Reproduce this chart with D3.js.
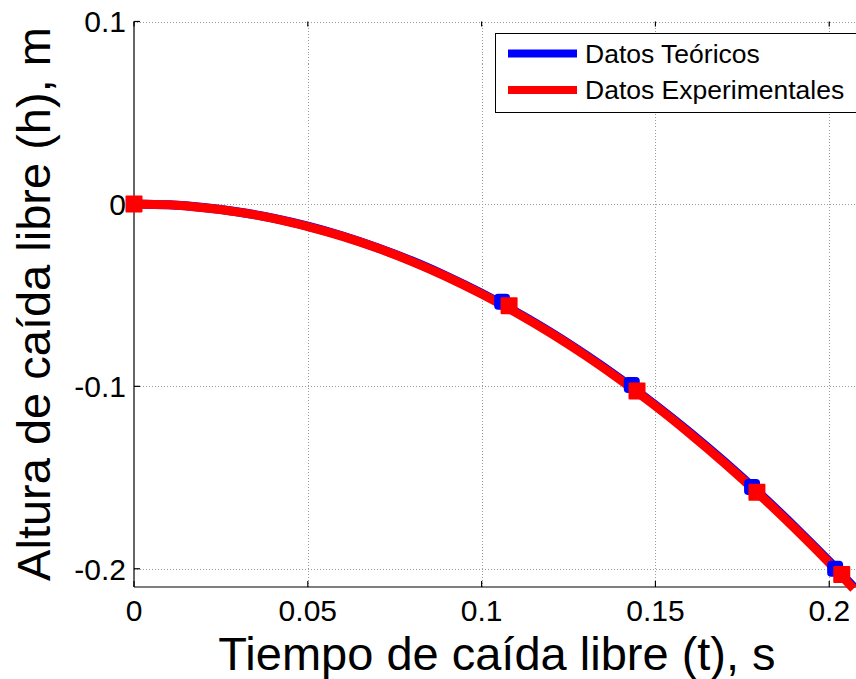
<!DOCTYPE html>
<html>
<head>
<meta charset="utf-8">
<script src="https://cdn.jsdelivr.net/npm/d3@7"></script>
<style>
  body { margin: 0; background: #fff; }
  svg { display: block; font-family: "Liberation Sans", Arial, sans-serif; }
</style>
</head>
<body>
<script>
// curve (t in s, h in m)
var tCurve = [0, 0.01, 0.02, 0.03, 0.04, 0.05, 0.06, 0.07, 0.08, 0.09, 0.10, 0.11, 0.12, 0.13, 0.14, 0.15, 0.16, 0.17, 0.18, 0.19, 0.20, 0.207];
var hTeo = [0, -0.0005, -0.002, -0.0044, -0.0078, -0.0122, -0.0176, -0.024, -0.0313, -0.0397, -0.049, -0.0593, -0.0705, -0.0828, -0.096, -0.1102, -0.1254, -0.1416, -0.1588, -0.1769, -0.196, -0.21];
var hExp = [0, -0.0005, -0.0021, -0.0045, -0.0079, -0.0124, -0.0178, -0.0242, -0.0316, -0.04, -0.0494, -0.0597, -0.071, -0.0833, -0.0966, -0.1108, -0.1261, -0.1423, -0.1595, -0.1777, -0.1968, -0.2109];

// square markers
var tTeoPts = [0, 0.1059, 0.1432, 0.1778, 0.2017];
var hTeoPts = [0, -0.0536, -0.0993, -0.1552, -0.2000];
var tExpPts = [0, 0.1079, 0.1447, 0.1792, 0.2036];
var hExpPts = [0, -0.0558, -0.1025, -0.1580, -0.2031];

var xTicks = [0, 0.05, 0.1, 0.15, 0.2];
var yTicks = [0.1, 0, -0.1, -0.2];
var seriesNames = ["Datos Teóricos", "Datos Experimentales"];
var seriesColors = ["#0000ff", "#ff0000"];

var width = 856,
    height = 679;

var x = d3.scaleLinear().domain([0, 0.21]).range([134, 864]);
var y = d3.scaleLinear().domain([-0.21, 0.1]).range([587, 21.5]);

var svg = d3.select("body").append("svg")
    .attr("width", width)
    .attr("height", height);

svg.append("rect").attr("width", width).attr("height", height).attr("fill", "#fff");

// grid
var grid = svg.append("g").attr("stroke", "#9a9a9a").attr("stroke-width", 1)
    .attr("stroke-dasharray", "1,2").attr("shape-rendering", "crispEdges");
grid.selectAll(".gx").data(xTicks.filter(function(d) { return d > 0; })).enter().append("line")
    .attr("x1", function(d) { return Math.round(x(d)) + 0.5; })
    .attr("x2", function(d) { return Math.round(x(d)) + 0.5; })
    .attr("y1", y.range()[1]).attr("y2", y.range()[0]);
grid.selectAll(".gy").data(yTicks).enter().append("line")
    .attr("y1", function(d) { return Math.round(y(d)) + 0.5; })
    .attr("y2", function(d) { return Math.round(y(d)) + 0.5; })
    .attr("x1", x(0)).attr("x2", width);

// axes lines
var ax = svg.append("g").attr("stroke", "#000").attr("stroke-width", 1.2).attr("fill", "none");
ax.append("line").attr("x1", x(0)).attr("x2", x(0)).attr("y1", y.range()[1]).attr("y2", y.range()[0]);
ax.append("line").attr("x1", x(0)).attr("x2", width).attr("y1", y.range()[0]).attr("y2", y.range()[0]);

// inward tick marks
xTicks.forEach(function(d) {
  ax.append("line").attr("x1", x(d)).attr("x2", x(d)).attr("y1", y.range()[0]).attr("y2", y.range()[0] - 6);
  ax.append("line").attr("x1", x(d)).attr("x2", x(d)).attr("y1", y.range()[1]).attr("y2", y.range()[1] + 5);
});
yTicks.forEach(function(d) {
  ax.append("line").attr("x1", x(0)).attr("x2", x(0) + 6).attr("y1", y(d)).attr("y2", y(d));
});

// tick labels
svg.selectAll(".xl").data(xTicks).enter().append("text")
    .attr("x", function(d) { return x(d); })
    .attr("y", 621)
    .attr("text-anchor", "middle")
    .attr("font-size", 30)
    .text(function(d) { return String(d); });
svg.selectAll(".yl").data(yTicks).enter().append("text")
    .attr("x", 126)
    .attr("y", function(d) { return y(d); })
    .attr("dy", "0.36em")
    .attr("text-anchor", "end")
    .attr("font-size", 30)
    .text(function(d) { return String(d); });

// axis titles
svg.append("text")
    .attr("x", 497).attr("y", 670)
    .attr("text-anchor", "middle")
    .attr("font-size", 47)
    .text("Tiempo de caída libre (t), s");
svg.append("text")
    .attr("transform", "translate(50,304) rotate(-90)")
    .attr("text-anchor", "middle")
    .attr("font-size", 47)
    .text("Altura de caída libre (h), m");

// curves
var line = d3.line().curve(d3.curveMonotoneX)
    .x(function(d) { return x(d[0]); })
    .y(function(d) { return y(d[1]); });

var series = [
  { curve: d3.zip(tCurve, hTeo), pts: d3.zip(tTeoPts, hTeoPts), color: seriesColors[0], size: 16, rx: 4 },
  { curve: d3.zip(tCurve, hExp), pts: d3.zip(tExpPts, hExpPts), color: seriesColors[1], size: 17, rx: 1 }
];

series.forEach(function(s) {
  svg.append("path")
      .attr("d", line(s.curve))
      .attr("fill", "none")
      .attr("stroke", s.color)
      .attr("stroke-width", 9)
      .attr("stroke-linejoin", "round");
});
series.forEach(function(s) {
  svg.selectAll(null).data(s.pts).enter().append("rect")
      .attr("x", function(d) { return x(d[0]) - s.size / 2; })
      .attr("y", function(d) { return y(d[1]) - s.size / 2; })
      .attr("width", s.size).attr("height", s.size)
      .attr("rx", s.rx)
      .attr("fill", s.color);
});

// legend
var lg = svg.append("g");
lg.append("rect")
    .attr("x", 495.5).attr("y", 33.5)
    .attr("width", 400).attr("height", 79)
    .attr("fill", "#fff").attr("stroke", "#000").attr("stroke-width", 1);
seriesNames.forEach(function(name, i) {
  var ly = 53.5 + i * 36.5;
  lg.append("line")
      .attr("x1", 508).attr("x2", 577)
      .attr("y1", ly).attr("y2", ly)
      .attr("stroke", seriesColors[i]).attr("stroke-width", 8);
  lg.append("text")
      .attr("x", 585).attr("y", ly + 9)
      .attr("font-size", 26.5)
      .text(name);
});
</script>
</body>
</html>
